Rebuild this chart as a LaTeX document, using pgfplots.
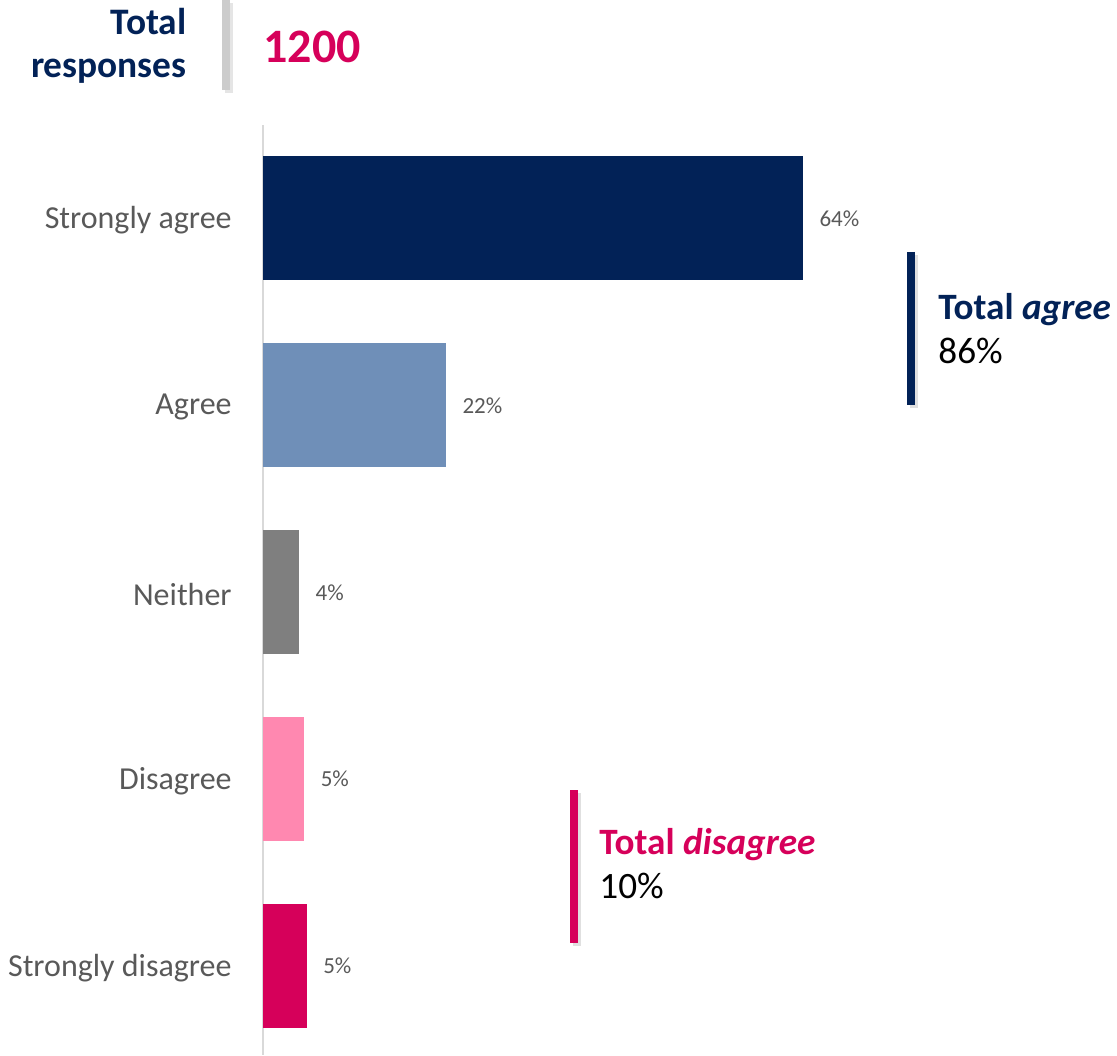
\documentclass[border=0pt]{standalone}
\usepackage{pgfplots}
\pgfplotsset{compat=1.18}
\usepackage{fontspec}
\setmainfont{Carlito}
\definecolor{navy}{HTML}{022257}
\definecolor{lblue}{HTML}{6F8FB8}
\definecolor{mgrey}{HTML}{7F7F7F}
\definecolor{lpink}{HTML}{FF88B0}
\definecolor{magenta2}{HTML}{D6005A}
\definecolor{txtgrey}{HTML}{595959}
\definecolor{axgrey}{HTML}{D9D9D9}
\begin{document}
\begin{tikzpicture}
\useasboundingbox (0,0) rectangle (558.5pt,527.5pt);
\begin{axis}[
  at={(131.5pt,0pt)}, anchor=south west,
  scale only axis, width=422pt, height=465pt,
  xbar, bar width=62pt, bar shift=0pt,
  xmin=0, xmax=100, ymin=-0.5, ymax=4.476, y dir=reverse,
  axis x line=none, axis y line*=left,
  y axis line style={draw=axgrey, line width=1pt},
  ytick={0,1,2,3,4},
  yticklabels={Strongly agree,Agree,Neither,Disagree,Strongly disagree},
  major tick length=0pt,
  yticklabel style={font=\fontsize{16}{19}\selectfont, text=txtgrey, inner sep=0pt, xshift=-15.5pt, yshift=-1pt},
  point meta=x,
  nodes near coords={\pgfmathprintnumber[fixed,precision=0,assume math mode=true]{\pgfplotspointmeta}\%},
  every node near coord/.append style={anchor=west, inner sep=0pt, xshift=8pt, font=\fontsize{11.5}{13}\selectfont, text=txtgrey},
  clip=false,
]
\addplot[fill=navy, draw=none] coordinates {(64,0)};
\addplot[fill=lblue, draw=none] coordinates {(21.7,1)};
\addplot[fill=mgrey, draw=none] coordinates {(4.3,2)};
\addplot[fill=lpink, draw=none] coordinates {(4.9,3)};
\addplot[fill=magenta2, draw=none] coordinates {(5.2,4)};
\end{axis}
\begin{scope}[x=0.5pt,y=-0.5pt,shift={(0,527.5pt)}]
  % header
  \draw[black!10, line width=4pt] (229,3) -- (229,93);
  \draw[black!20, line width=4pt] (226,0) -- (226,90);
  \node[anchor=base east, inner sep=0pt, font=\fontsize{18.7}{22}\selectfont\bfseries, text=navy] at (187,35) {Total};
  \node[anchor=base east, inner sep=0pt, font=\fontsize{18.7}{22}\selectfont\bfseries, text=navy] at (187,78) {responses};
  \node[anchor=base west, inner sep=0pt, font=\fontsize{24}{28}\selectfont\bfseries, text=magenta2] at (263,63) {1200};
  % total agree
  \draw[black!12, line width=4pt] (914,255) -- (914,408);
  \draw[navy, line width=4pt] (911,252) -- (911,405);
  \node[anchor=base west, inner sep=0pt, font=\fontsize{18.6}{21}\selectfont, text=navy] at (938,320) {\textbf{Total \textit{agree}}};
  \node[anchor=base west, inner sep=0pt, font=\fontsize{18.6}{21}\selectfont, text=black] at (938,364) {86\%};
  % total disagree
  \draw[black!12, line width=4pt] (577,793) -- (577,946);
  \draw[magenta2, line width=4pt] (574,790) -- (574,943);
  \node[anchor=base west, inner sep=0pt, font=\fontsize{18.6}{21}\selectfont, text=magenta2] at (599,854) {\textbf{Total \textit{disagree}}};
  \node[anchor=base west, inner sep=0pt, font=\fontsize{18.6}{21}\selectfont, text=black] at (599,898) {10\%};
\end{scope}
\end{tikzpicture}
\end{document}
